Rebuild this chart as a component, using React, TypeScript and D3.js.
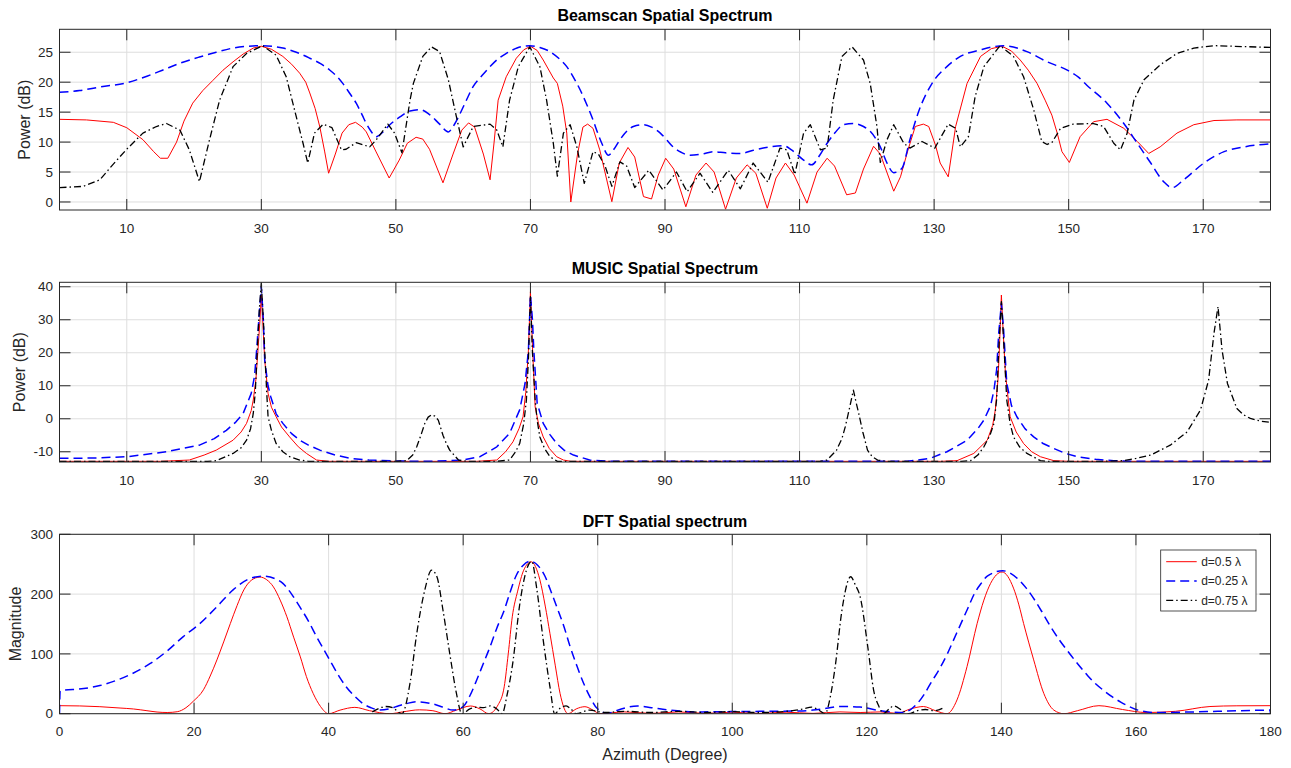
import React from "react";
import * as d3 from "d3";

// ---------- DATA ----------
const beamXTicks = [10, 30, 50, 70, 90, 110, 130, 150, 170];
const beamYTicks = [0, 5, 10, 15, 20, 25];
const musicXTicks = [10, 30, 50, 70, 90, 110, 130, 150, 170];
const musicYTicks = [-10, 0, 10, 20, 30, 40];
const dftXTicks = [0, 20, 40, 60, 80, 100, 120, 140, 160, 180];
const dftYTicks = [0, 100, 200, 300];
const legendLabels = ["d=0.5 \u03bb", "d=0.25 \u03bb", "d=0.75 \u03bb"];

const beamRed: [number, number][] = [
  [0, 13.8], [4, 13.7], [8, 13.3], [10, 12.4], [12.4, 10.4], [14, 8.4], [15, 7.3], [16.1, 7.3], [17.4, 10], [18.5, 13.5],
  [19.8, 16.5], [21.3, 18.6], [22.8, 20.3], [24.3, 22], [25.8, 23.4], [27.3, 24.7], [28.8, 25.7], [30, 26.0], [31.5, 25.5],
  [33.2, 24.3], [34.5, 23], [35.7, 21.5], [36.6, 20], [37.2, 18.2], [38, 15.6], [38.7, 12.5], [39.4, 8.5], [40, 4.8],
  [41, 8], [42, 11.5], [43, 12.9], [44, 13.3], [45, 12.5], [45.6, 11.7], [47, 8.5], [49, 4.0], [50.5, 7], [51.7, 9.8],
  [53, 10.8], [54, 10.5], [55, 8.8], [57, 3.2], [58.5, 8], [59.8, 12], [60.8, 13.2], [61.7, 12.5], [63, 8], [64, 3.7],
  [64.6, 10], [65.2, 17], [66.4, 20.9], [67.9, 24], [69, 25.4], [70, 26], [71, 25.3], [71.9, 23.7], [73.4, 20.7], [74, 19.8],
  [74.8, 16], [75.4, 11.5], [76, 0], [77, 8], [77.8, 12.5], [78.5, 13.0], [79.3, 12.3], [80.3, 8.7], [82.1, 0.05],
  [83.2, 6.5], [84.5, 9.1], [85.5, 7.5], [86.8, 0.9], [88, 0.5], [89, 4.5], [90.1, 7.3], [91.3, 5.5], [93.1, -0.8],
  [94.6, 4.5], [96.1, 6.5], [97.3, 5], [99, -1.2], [100.6, 4], [102.2, 6.2], [103.5, 4.8], [105.2, -1.05], [106.5, 4],
  [107.9, 6.5], [109.2, 4.5], [111.1, -0.2], [112.6, 5], [114.1, 7.3], [115.2, 6], [117, 1.2], [118.3, 1.5], [119.5, 5.5],
  [121, 9.3], [122, 8], [124, 1.8], [125, 4.2], [126.2, 9], [127.2, 12.6], [128.4, 13.0], [129.2, 12.6], [130.2, 9.5],
  [130.9, 6.5], [132.1, 4.2], [133.2, 12.6], [134.9, 19.8], [136.9, 24.3], [138.5, 25.6], [140.1, 26.0], [141.5, 25.2],
  [142.8, 23.7], [144, 22], [145.3, 19.8], [146.5, 17], [147.5, 14.5], [148.3, 11.5], [149, 8.4], [150.1, 6.6],
  [151.7, 10.9], [153.7, 13.4], [155.7, 13.8], [158.2, 12.3], [160.2, 10.1], [161.9, 8.1], [163.6, 9.2], [166.1, 11.5],
  [168.6, 12.9], [171.6, 13.6], [175, 13.7], [180, 13.7],
];

const beamBlue: [number, number][] = [
  [0, 18.3], [3, 18.6], [6, 19.2], [10, 19.9], [13, 21], [15.3, 22], [18, 23.2], [20.8, 24.2], [23.3, 25], [25.8, 25.7],
  [28, 26.0], [30, 26.1], [31.6, 26.0], [33.2, 25.7], [35.2, 25], [37.2, 24], [38.8, 23.1], [40.2, 22], [41.2, 21],
  [42.1, 19.8], [43.1, 18.2], [44.1, 16.5], [45, 14.5], [45.6, 13.1], [46.3, 11.8], [47.1, 10.9], [48, 11.6], [49.1, 12.9],
  [50.6, 14.2], [52.1, 15.2], [53.6, 15.4], [55, 14.6], [56.5, 13.0], [57.8, 11.7], [58.5, 12.6], [59.3, 14.2], [60.4, 16.8],
  [61.5, 19.3], [62.8, 21.1], [64, 22.6], [65.2, 23.9], [66.4, 24.8], [68, 25.7], [69.9, 26.1], [71.4, 25.8], [72.9, 25.1],
  [74.2, 24], [75.4, 22.6], [76.4, 20.8], [77.4, 18.7], [78.4, 16.2], [79.3, 13.7], [80.1, 11.2], [80.6, 9.8], [81.6, 7.8],
  [82.4, 8.8], [83.3, 10.4], [85.3, 12.6], [86.8, 12.9], [88, 12.5], [89.3, 11.5], [90.3, 10.3], [91.2, 9.2], [92.4, 8.3],
  [93.7, 7.8], [95.5, 8.0], [97.2, 8.4], [99, 8.2], [101.2, 8.1], [103, 8.6], [104.6, 9.0], [107.6, 9.4], [108.8, 8.7],
  [110.6, 7.0], [111.8, 6.2], [113, 7.8], [114.1, 9.8], [115.3, 11.6], [116.5, 12.9], [118, 13.1], [119.5, 12.6],
  [120.5, 11.8], [122, 9.2], [123, 6.5], [124, 4.9], [125.2, 5.6], [126.4, 10.4], [127.7, 15.1], [129.7, 19.8],
  [131.9, 22.6], [133.9, 24.3], [136.9, 25.4], [140.3, 26.1], [143.8, 25.1], [146.8, 23.4], [149.8, 22], [151.5, 20.8],
  [152.7, 19.5], [155.7, 16.5], [158.2, 13.1], [160.2, 9.8], [162.2, 6.5], [164.1, 3.4], [165.4, 2.4], [167.1, 3.7],
  [170.1, 6.5], [173.1, 8.4], [176.1, 9.2], [180, 9.7],
];

const beamBlack: [number, number][] = [
  [0, 2.4], [3.5, 2.6], [6, 3.7], [7.9, 6.2], [9.9, 8.7], [12.4, 11.5], [14.4, 12.6], [15.9, 13.1], [17.9, 12.0], [19.3, 8.7],
  [20.8, 3.4], [22.3, 10.4], [23.8, 17], [25.8, 22.6], [27.8, 24.8], [30.2, 26.1], [32.2, 24.5], [33.7, 20.9], [35.2, 14.2],
  [36.2, 9.8], [36.9, 6.5], [37.9, 11.5], [39.2, 13], [40.5, 12.4], [41.9, 8.7], [42.6, 8.8], [44.1, 9.9], [46.1, 9.2],
  [47.1, 10.4], [48.8, 13], [49.8, 11.5], [50.9, 8.2], [52.1, 17], [52.6, 19.8], [54, 24.3], [55.3, 25.9], [56.5, 25.1],
  [57.8, 20.4], [59, 14.2], [60, 9.2], [61.5, 12.6], [64, 13], [65, 12], [65.9, 9.2], [66.9, 17], [68.2, 22.6], [69.9, 25.9],
  [71.4, 22.6], [72.4, 17], [73.4, 9.8], [74, 4.3], [74.9, 11.5], [75.9, 12.9], [76.9, 9.2], [78, 3.1], [79.3, 8.4],
  [80.1, 8.0], [81.1, 6.0], [82.1, 2.6], [83.3, 6.7], [84.3, 6.0], [85.5, 2.4], [87.6, 5.3], [89.7, 2.0], [91.7, 5.0],
  [93.3, 1.7], [95.2, 4.8], [97.1, 1.6], [99.4, 5.3], [101.2, 2.2], [103.1, 6.5], [105.3, 3.3], [107.1, 9.0], [108.1, 8.7],
  [109.3, 4.6], [110.6, 11.5], [111.6, 12.9], [113.1, 8.7], [114.1, 9.0], [115, 17], [116.3, 24.3], [117.8, 25.9],
  [119.5, 23.7], [120.5, 19.8], [121.5, 12.6], [122, 6.6], [123, 10.4], [124, 12.9], [125.5, 9.8], [126.4, 9.0],
  [128.2, 10.1], [130.1, 9.0], [132.1, 13], [133.2, 12.3], [133.9, 9.2], [135.1, 10.9], [136.1, 17.6], [137.4, 22.6],
  [139.8, 26.1], [141.8, 24.3], [143.3, 20.9], [144.8, 15.4], [146, 10.1], [146.8, 9.6], [147.5, 9.9], [148.8, 12.3],
  [150.7, 13], [153.7, 13.1], [155.2, 12.6], [156.7, 9.8], [157.7, 8.7], [158.7, 11.5], [159.7, 17], [161.2, 20.4],
  [163.6, 22.9], [166.1, 24.8], [168.6, 25.7], [171.6, 26.1], [180, 25.8],
];

const musicRed: [number, number][] = [
  [0, -12.9], [15, -12.9], [19.3, -12.5], [21.5, -11], [23.3, -9.5], [25.8, -6.5], [27, -4], [27.8, -1.4], [28.5, 2.5],
  [28.8, 5.7], [29.2, 12], [29.5, 20.8], [29.8, 30], [30, 37.5], [30.2, 30], [30.5, 17.8], [31, 7.7], [31.5, 3.5],
  [32.2, 0.6], [33, -2.5], [34.2, -5.5], [35.5, -8.5], [36.7, -10.5], [38.2, -12.5], [40, -12.9],
  [62, -12.9], [65, -12.5], [66.3, -10], [67.4, -7], [68.3, -3], [68.9, 0.6], [69.3, 8], [69.7, 20.8], [70, 38.5],
  [70.3, 22], [70.7, 3.6], [71.2, -1.5], [71.9, -5.5], [72.8, -9], [73.9, -11.5], [74.9, -12.5], [76, -12.9],
  [131, -12.9], [133.4, -12.7], [135.9, -10.5], [137.9, -6.5], [138.7, -2], [139.1, 2.7], [139.5, 12], [139.7, 20.8],
  [140, 37.5], [140.3, 25], [140.6, 13.7], [141.3, 0.6], [142.2, -4], [143.3, -7.5], [144.5, -10], [145.8, -11.5],
  [147.8, -12.7], [150, -12.9], [180, -12.9],
];

const musicBlue: [number, number][] = [
  [0, -12], [5, -11.9], [10, -11.5], [15.9, -10], [20.8, -8], [23, -6], [24.8, -3.5], [26.2, -1], [27.3, 1.6], [28.5, 7.7],
  [29, 13], [29.3, 20.8], [29.7, 32], [30, 40], [30.3, 30], [30.5, 17.8], [31, 10], [31.4, 6.7], [32.2, 1.5], [33.2, -1.4],
  [34.5, -4.5], [35.7, -6.5], [37, -8], [38.7, -9.5], [41, -11], [43.2, -12], [46, -12.5], [50, -12.8], [55, -12.9],
  [60, -12.5], [62.5, -11.5], [65, -8.5], [66.9, -4.4], [68.4, 2.7], [69.2, 10.7], [69.7, 20.8], [70, 37.5], [70.3, 30],
  [70.5, 20.8], [71, 4.7], [71.9, -1.4], [72.9, -4.8], [73.9, -7.5], [75, -9.5], [76.4, -11], [78.8, -12.5], [82, -12.9],
  [126, -12.9], [129.4, -12], [131.9, -10], [134.9, -6.5], [136.5, -3], [137.4, -0.4], [138.4, 4], [138.9, 8.7],
  [139.3, 15], [139.6, 25.9], [140, 35], [140.3, 28], [140.8, 10.7], [141.5, 4], [142.3, 0.6], [143.5, -3], [144.8, -5.5],
  [146.2, -7.5], [147.8, -9], [149.5, -10.5], [151.3, -11.5], [154, -12.3], [156.7, -12.7], [160, -12.9], [180, -12.9],
];

const musicBlack: [number, number][] = [
  [0, -12.9], [22, -12.9], [23.3, -12.7], [25.8, -10.5], [27, -8.8], [27.8, -6.5], [28.4, -3], [28.8, 1.6], [29.1, 8],
  [29.4, 20.8], [29.7, 33], [30, 41], [30.3, 30], [30.5, 20.8], [30.8, 8], [31, 0.6], [31.5, -3.5], [32.2, -7.5],
  [33.2, -10], [34.2, -11.5], [35.7, -12.5], [37, -12.9],
  [50, -12.9], [51.6, -12.7], [52.5, -11], [53.1, -8.5], [53.8, -4.5], [54.3, -1.4], [54.8, 0.5], [55.3, 1.2], [55.8, 0.8],
  [56.3, -0.4], [57, -5], [57.5, -7.5], [58, -9.5], [59.3, -12.5], [60.5, -12.9],
  [65, -12.9], [66.9, -12.5], [67.8, -10], [68.4, -7.5], [69, -1.5], [69.4, 5.7], [69.7, 18], [70, 37], [70.3, 20],
  [70.7, 5.7], [71, -0.5], [71.4, -5.5], [72.1, -9], [72.9, -11.5], [74, -12.9],
  [113, -12.9], [114.1, -12.5], [115.5, -9.5], [116.3, -6], [116.8, -2.4], [117.4, 3], [118, 8.7], [118.4, 5], [118.8, 1.6],
  [119.4, -4], [120.1, -9.5], [120.8, -11.5], [121.6, -12.5], [123, -12.9],
  [134, -12.9], [135.4, -12.7], [136.5, -11], [137.4, -8.5], [138.3, -5], [138.9, -1.4], [139.3, 6], [139.6, 20.8],
  [140, 35.5], [140.3, 25], [140.8, 5.7], [141.3, -1.5], [141.8, -5.5], [142.7, -8.5], [143.8, -10.5], [145.8, -12.7],
  [147, -12.9],
  [155, -12.9], [158.2, -12.7], [160, -12], [162.2, -11], [165.1, -8], [167.6, -4], [169.6, 2.7], [170.8, 11.7],
  [171.6, 25.9], [172.2, 34], [172.8, 20.8], [173.6, 10.7], [175, 3.1], [176, 1.2], [177, 0.1], [178.5, -0.7], [180, -1.1],
];

const dftRed: [number, number][] = [
  [0, 13.4], [3, 13], [6, 11.7], [9, 9.5], [11, 7.9], [13, 5], [14.5, 2.8], [16, 2], [17.5, 3.3], [18.8, 10], [19.9, 21],
  [21.4, 40], [22.4, 63], [23.4, 90], [24.4, 120], [25.4, 151], [26.4, 181], [27.4, 207], [28.5, 223], [29.8, 228.5],
  [30.8, 224], [31.8, 212], [32.8, 190], [33.8, 162], [34.8, 128], [35.8, 95], [36.7, 62], [37.7, 34], [38.8, 12], [40, 0],
  [41.7, 6], [43.9, 10.6], [46.1, 5], [49.1, 0], [51, 3], [53.5, 6.5], [55.5, 5], [57.3, 0], [59, 6], [61.1, 12.9],
  [62.5, 8], [63.8, 0], [65.2, 15], [66.1, 45], [66.7, 100], [67.3, 162], [68.1, 205], [69, 240], [70.1, 254], [71.4, 224],
  [72.2, 180], [72.9, 134], [73.7, 80], [74.4, 34], [75.6, 0], [76.8, 8], [78.1, 11.7], [79.3, 6], [80.3, 0], [84, 3],
  [88, 0.5], [92, 3], [96, 0.5], [100, 2.5], [104, 0.5], [108, 2.5], [112, 0.5], [116, 3], [119, 2], [122, 3], [124.5, 0.5],
  [126.5, 8], [128.4, 12], [130.2, 5], [131.9, 0], [133.4, 23], [134.9, 79], [136.4, 151], [137.4, 190], [138.4, 218],
  [140.1, 237], [141.8, 210], [142.6, 182], [143.3, 151], [144.8, 90], [146.3, 34], [147.8, 6], [149.3, 0], [151.3, 5],
  [154.5, 13.4], [158, 7], [161.5, 2], [165.9, 4], [171, 12], [175, 13.2], [180, 13.4],
];

const dftBlue: [number, number][] = [
  [0, 0], [0.1, 38.5], [3.6, 42], [6, 47], [8.5, 56], [11, 68], [13.5, 84], [15.9, 104], [18.4, 129], [20.9, 151],
  [23.4, 179], [25.8, 207], [28.3, 226], [30.3, 230], [32, 226], [33.2, 218], [34.5, 200], [35.7, 179], [37, 155],
  [38.2, 129], [39.5, 103], [40.7, 79], [41.7, 60], [42.6, 45], [43.8, 30], [45.1, 17], [46.3, 10], [47.6, 6], [49, 8],
  [50.1, 12], [51.6, 17], [53.1, 20], [55.6, 16], [57, 11], [58.5, 6], [60, 12], [61, 30], [62, 56], [63, 84], [64, 112],
  [65, 143], [66.1, 173], [67, 204], [67.8, 229], [68.9, 248], [70, 255], [71.1, 248], [72.2, 229], [73, 206], [73.9, 179],
  [75, 145], [75.9, 112], [76.9, 80], [77.9, 51], [78.9, 27], [79.9, 9], [81.4, 1], [83.5, 8], [85.9, 13], [88, 10],
  [90.8, 6], [94.8, 3], [100, 3.5], [105, 4], [110, 4.5], [112, 6], [114, 9], [116, 12], [119, 11], [121.5, 6], [123.5, 3],
  [125.5, 2], [126.5, 7], [127.5, 17], [128.5, 32], [129.5, 51], [130.8, 75], [132, 101], [133, 126], [134, 151],
  [135, 176], [136, 201], [137, 218], [137.9, 230], [140.2, 239], [142.4, 226], [143.7, 210], [144.9, 191], [146.2, 167],
  [147.4, 144], [148.7, 122], [149.9, 104], [151.3, 84], [152.8, 64], [154, 50], [155.3, 38], [156.5, 28], [157.8, 19],
  [159, 12], [160.3, 6], [162.8, 2], [168.8, 3], [173.7, 4.5], [179.9, 6], [180, 0],
];

const dftBlack: [number, number][] = [
  [46.5, 3], [47.5, 9], [48.5, 12], [49.5, 10], [50.9, 0], [52.1, 51], [53.1, 134], [54.3, 207], [55.3, 240], [56.1, 229],
  [57, 173], [58, 101], [59, 34], [59.8, 0], [61, 8], [62, 11], [63, 10], [64, 13], [65, 8], [65.8, 0], [66.5, 30],
  [67.3, 79], [68.5, 190], [69.4, 240], [70.2, 255], [70.9, 212], [71.9, 123], [72.9, 45], [73.6, 0], [74.5, 10],
  [75.3, 13], [76, 8], [76.8, 0], [78.8, 6], [81, 2], [84, 4], [88, 2], [92, 4], [96, 2], [100, 3.5], [104, 2], [108, 4],
  [110.5, 8], [111.8, 11], [113, 5], [113.8, 0], [114.6, 30], [115.3, 79], [116.3, 173], [117.6, 229], [118.3, 215],
  [119, 196], [120.2, 107], [121, 40], [121.8, 12], [122.5, 0], [123.3, 8], [124, 13], [125.2, 6], [126.2, 0], [127.5, 5],
  [128.7, 7], [130, 5], [131.6, 11],
];

// ---------- STYLE / LAYOUT ----------
const W = 1291;
const H = 768;
const LEFT = 59.5;
const RIGHT = 1270.5;
const TXT = "#262626";
const FONT = "'Liberation Sans', Arial, Helvetica, sans-serif";

const styles = [
  { stroke: "#ff0000", width: 1, dash: undefined as string | undefined },
  { stroke: "#0000ff", width: 1.5, dash: "9,5" },
  { stroke: "#000000", width: 1.3, dash: "7,3,1.5,3" },
];

type Panel = {
  title: string;
  top: number;
  bottom: number;
  yDomain: [number, number];
  xTicks: number[];
  yTicks: number[];
  ylabel: string;
  ylabelX: number;
  titleY: number;
  series: [number, number][][];
  curves: any[];
};

const panels: Panel[] = [
  {
    title: "Beamscan Spatial Spectrum",
    top: 29.3, bottom: 210, yDomain: [-1.34, 28.83],
    xTicks: beamXTicks, yTicks: beamYTicks, ylabel: "Power (dB)", ylabelX: 30, titleY: 20.7,
    series: [beamRed, beamBlue, beamBlack],
    curves: [d3.curveLinear, d3.curveMonotoneX, d3.curveLinear],
  },
  {
    title: "MUSIC Spatial Spectrum",
    top: 282.3, bottom: 462, yDomain: [-13.1, 41.35],
    xTicks: musicXTicks, yTicks: musicYTicks, ylabel: "Power (dB)", ylabelX: 25, titleY: 274,
    series: [musicRed, musicBlue, musicBlack],
    curves: [d3.curveLinear, d3.curveLinear, d3.curveLinear],
  },
  {
    title: "DFT Spatial spectrum",
    top: 534.3, bottom: 713.7, yDomain: [0, 300],
    xTicks: dftXTicks, yTicks: dftYTicks, ylabel: "Magnitude", ylabelX: 20.5, titleY: 526.5,
    series: [dftRed, dftBlue, dftBlack],
    curves: [d3.curveMonotoneX, d3.curveMonotoneX, d3.curveMonotoneX],
  },
];

const TICK = 11;

function PanelView({ p, idx }: { p: Panel; idx: number }) {
  const x = d3.scaleLinear().domain([0, 180]).range([LEFT, RIGHT]);
  const y = d3.scaleLinear().domain(p.yDomain).range([p.bottom, p.top]);
  const clipId = `clip-${idx}`;
  return (
    <g>
      <defs>
        <clipPath id={clipId}>
          <rect x={LEFT} y={p.top} width={RIGHT - LEFT} height={p.bottom - p.top} />
        </clipPath>
      </defs>
      <rect x={LEFT} y={p.top} width={RIGHT - LEFT} height={p.bottom - p.top} fill="#fff" />
      {p.xTicks.map((t) => (
        <line key={"gx" + t} x1={x(t)} x2={x(t)} y1={p.top} y2={p.bottom} stroke="#dedede" strokeWidth={1} />
      ))}
      {p.yTicks.map((t) => (
        <line key={"gy" + t} x1={LEFT} x2={RIGHT} y1={y(t)} y2={y(t)} stroke="#dedede" strokeWidth={1} />
      ))}
      <g clipPath={`url(#${clipId})`}>
        {p.series.map((s, i) => {
          const line = d3
            .line<[number, number]>()
            .x((d) => x(d[0]))
            .y((d) => y(d[1]))
            .curve(p.curves[i]);
          return (
            <path
              key={i}
              d={line(s) || ""}
              fill="none"
              stroke={styles[i].stroke}
              strokeWidth={styles[i].width}
              strokeDasharray={styles[i].dash}
              strokeLinejoin="round"
            />
          );
        })}
      </g>
      <rect x={LEFT} y={p.top} width={RIGHT - LEFT} height={p.bottom - p.top} fill="none" stroke={TXT} strokeWidth={1} />
      {p.xTicks.map((t) => (
        <g key={"tx" + t}>
          <line x1={x(t)} x2={x(t)} y1={p.bottom} y2={p.bottom - TICK} stroke={TXT} strokeWidth={1} />
          <line x1={x(t)} x2={x(t)} y1={p.top} y2={p.top + TICK} stroke={TXT} strokeWidth={1} />
          <text x={x(t)} y={p.bottom + 22.5} textAnchor="middle" fontSize={13.5} fill={TXT} fontFamily={FONT}>
            {t}
          </text>
        </g>
      ))}
      {p.yTicks.map((t) => (
        <g key={"ty" + t}>
          <line x1={LEFT} x2={LEFT + TICK} y1={y(t)} y2={y(t)} stroke={TXT} strokeWidth={1} />
          <line x1={RIGHT} x2={RIGHT - TICK} y1={y(t)} y2={y(t)} stroke={TXT} strokeWidth={1} />
          <text x={53} y={y(t)} dy="0.35em" textAnchor="end" fontSize={13.5} fill={TXT} fontFamily={FONT}>
            {t}
          </text>
        </g>
      ))}
      <text x={(LEFT + RIGHT) / 2} y={p.titleY} textAnchor="middle" fontSize={16} fontWeight="bold" fill="#000" fontFamily={FONT}>
        {p.title}
      </text>
      <text
        transform={`translate(${p.ylabelX},${(p.top + p.bottom) / 2}) rotate(-90)`}
        textAnchor="middle"
        fontSize={16}
        fill={TXT}
        fontFamily={FONT}
      >
        {p.ylabel}
      </text>
    </g>
  );
}

export default function App() {
  const legX = 1160.7;
  const legY = 550;
  return (
    <svg
      width={W}
      height={H}
      viewBox={`0 0 ${W} ${H}`}
      style={{ position: "absolute", left: 0, top: 0, background: "#fff" }}
    >
      <rect x={0} y={0} width={W} height={H} fill="#fff" />
      {panels.map((p, i) => (
        <PanelView key={i} p={p} idx={i} />
      ))}
      <text x={(LEFT + RIGHT) / 2} y={760} textAnchor="middle" fontSize={16} fill={TXT} fontFamily={FONT}>
        Azimuth (Degree)
      </text>
      <g>
        <rect x={legX} y={legY} width={95.3} height={61} fill="#fff" stroke={TXT} strokeWidth={0.8} />
        {legendLabels.map((lab, i) => {
          const yy = legY + 11.7 + i * 19.3;
          return (
            <g key={lab}>
              <line
                x1={legX + 5.5}
                x2={legX + 36}
                y1={yy}
                y2={yy}
                stroke={styles[i].stroke}
                strokeWidth={styles[i].width}
                strokeDasharray={styles[i].dash}
              />
              <text x={legX + 40.5} y={yy} dy="0.35em" fontSize={12} fill={TXT} fontFamily={FONT}>
                {lab}
              </text>
            </g>
          );
        })}
      </g>
    </svg>
  );
}
